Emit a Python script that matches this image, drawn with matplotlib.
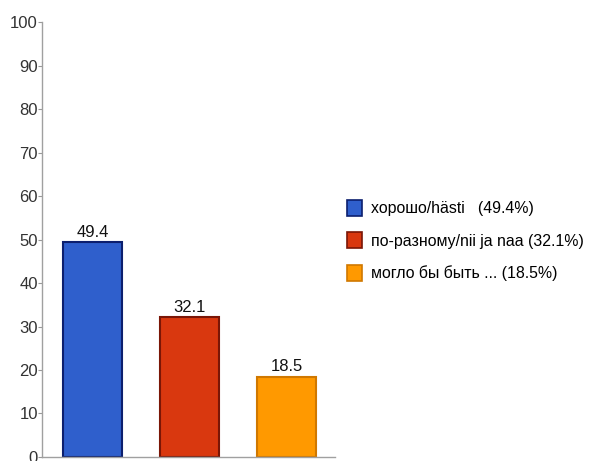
import matplotlib
matplotlib.use("Agg")
import matplotlib.pyplot as plt
from matplotlib.patches import Patch

plt.rcParams['font.family'] = ['Liberation Sans', 'DejaVu Sans']

# данные
labels = ["хорошо/hästi   (49.4%)", "по-разному/nii ja naa (32.1%)", "могло бы быть ... (18.5%)"]
values = [49.4, 32.1, 18.5]
colors = ["#2f5fcc", "#d9380f", "#ff9900"]
edges = ["#0c1f6e", "#7a1606", "#d07800"]
yticks = [0, 10, 20, 30, 40, 50, 60, 70, 80, 90, 100]

fig = plt.figure(figsize=(5.95, 4.61), dpi=100)
ax = fig.add_axes([0.0706, 0.0087, 0.4924, 0.9435])

x = range(len(values))
bars = ax.bar(x, values, width=0.61, color=colors, edgecolor=edges, linewidth=1.5)
for xi, v in zip(x, values):
    ax.text(xi, v + 0.5, f"{v}", ha="center", va="bottom", fontsize=12, color="#111111")

ax.set_xlim(-0.52, 2.5)
ax.set_ylim(0, 100)
ax.set_yticks(yticks)
ax.set_xticks([])
ax.tick_params(axis="y", length=3, width=0.8, color="#999999", labelsize=12,
               labelcolor="#333333", pad=0)
for s in ["top", "right"]:
    ax.spines[s].set_visible(False)
for s in ["left", "bottom"]:
    ax.spines[s].set_color("#a0a0a0")
    ax.spines[s].set_linewidth(1)

handles = [Patch(facecolor=c, edgecolor=e, linewidth=1.2) for c, e in zip(colors, edges)]
fig.legend(handles, labels, loc="upper left", bbox_to_anchor=(0.573, 0.58),
           frameon=False, fontsize=11.4, handlelength=0.9, handleheight=1.2,
           handletextpad=0.6, labelspacing=1.0, borderaxespad=0)

fig.savefig("out.png", dpi=100)
